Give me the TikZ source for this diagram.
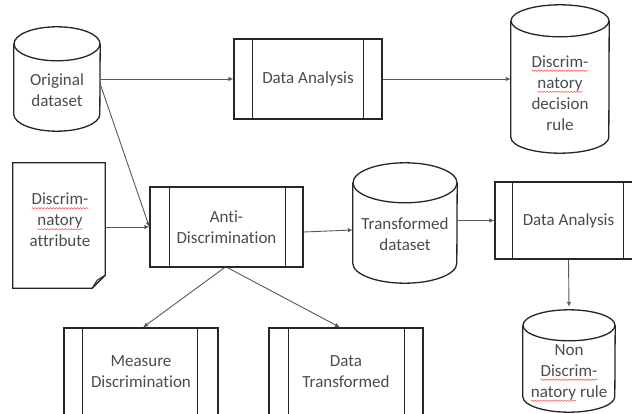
\documentclass[tikz,border=0pt]{standalone}
\usepackage{fontspec}
\setmainfont{Carlito}[Ligatures={NoCommon}]
\usetikzlibrary{arrows.meta,decorations.pathmorphing}
\newcommand\redwave[1]{\tikz[baseline=(w.base)]{\node[inner sep=0pt,outer sep=0pt,text=black!70] (w) {#1};
  \draw[red!70, line width=0.5pt, decorate, decoration={snake, amplitude=0.7pt, segment length=3pt}]
    ([yshift=-3.5pt]w.base west) -- ([yshift=-3.5pt]w.base east);}}
\newcommand\cyl[3]{%
  \draw[shp] ([yshift=-#3pt]#1.north west) -- ([yshift=#3pt]#1.south west)
    arc[start angle=180,end angle=360,x radius=#2pt,y radius=#3pt]
    -- ([yshift=-#3pt]#1.north east);
  \draw[shp] ([yshift=-#3pt]#1.north) ellipse[x radius=#2pt,y radius=#3pt];}
\newcommand\bars[3]{%
  \draw[shp] ([xshift=#2pt]#1.north west) -- ([xshift=#2pt]#1.south west);
  \draw[shp] ([xshift=-#3pt]#1.north east) -- ([xshift=-#3pt]#1.south east);}
\tikzset{
  shp/.style={draw=black!85, line width=1.3pt},
  proc/.style={shp, rectangle, inner sep=0pt, align=center,
    font=\fontsize{17}{21}\selectfont, text=black!70},
  txt/.style={align=center, font=\fontsize{17}{21}\selectfont, text=black!70, inner sep=0pt},
  conn/.style={draw=black!65, line width=0.9pt, -{Latex[length=5pt,width=4.5pt]}},
  ghost/.style={draw=none, rectangle, inner sep=0pt},
}
\begin{document}
\begin{tikzpicture}[x=1pt,y=-1pt]
\useasboundingbox (0,0) rectangle (632,414);
\fill[white] (0,0) rectangle (632,414);
\clip (0,0) rectangle (632,414);

% cylinders
\node[ghost, minimum width=86pt, minimum height=104pt] (orig) at (57,79) {};
\cyl{orig}{43}{17}
\node[txt] (origt) at (57,90) {Original\\dataset};

\node[ghost, minimum width=98pt, minimum height=148pt] (rule1) at (560,79) {};
\cyl{rule1}{49}{16}
\node[txt] (rule1t) at (560,93) {\redwave{Discrim-}\\\redwave{natory}\\decision\\rule};

\node[ghost, minimum width=104pt, minimum height=120pt] (trans) at (405,223) {};
\cyl{trans}{52}{20}
\node[txt] (transt) at (405,234) {Transformed\\dataset};

\node[ghost, minimum width=92pt, minimum height=102pt] (non) at (569,361) {};
\cyl{non}{46}{15.5}
\node[txt] (nont) at (569,373) {Non\\\redwave{Discrim-}\\\redwave{natory} rule};

% document
\node[ghost, minimum width=92pt, minimum height=125pt] (attr) at (59,225.5) {};
\draw[shp] (attr.north west) -- (attr.north east) -- ([yshift=13pt]attr.south east)
  -- ([xshift=-13pt]attr.south east) -- (attr.south west) -- cycle;
\draw[shp, line width=1pt] ([yshift=13pt]attr.south east) -- ([xshift=-8pt,yshift=8pt]attr.south east)
  -- ([xshift=-13pt]attr.south east);
\node[txt] (attrt) at (60,220) {\redwave{Discrim-}\\\redwave{natory}\\attribute};

% processes
\node[proc, minimum width=148pt, minimum height=80pt] (da1) at (308,79) {Data Analysis};
\bars{da1}{19}{19}
\node[proc, minimum width=153pt, minimum height=80pt] (anti) at (226.5,227) {Anti-\\Discrimination};
\bars{anti}{20}{18}
\node[proc, minimum width=147pt, minimum height=77pt] (da2) at (568.5,220.5) {Data Analysis};
\bars{da2}{18}{19}
\node[proc, minimum width=154pt, minimum height=88pt] (measure) at (141,372) {Measure\\Discrimination};
\bars{measure}{19}{21}
\node[proc, minimum width=154pt, minimum height=88pt] (dtrans) at (346,372) {Data\\Transformed};
\bars{dtrans}{20}{19}

% connectors
\draw[conn] (orig.east) -- (da1.west);
\draw[conn] (da1.east) -- (rule1.west);
\draw[conn] ([yshift=-5pt]orig.east) -- (anti.west);
\draw[conn] (attr.east |- anti.west) -- (anti.west);
\draw[conn] ([yshift=-5pt]anti.east) -- ([yshift=-7pt]trans.west);
\draw[conn] (trans.east |- da2.west) -- (da2.west);
\draw[conn] (da2.south) -- ([yshift=3pt]non.north);
\draw[conn] ([xshift=-2pt]anti.south) -- ([xshift=2pt]measure.north);
\draw[conn] ([xshift=1pt]anti.south) -- ([xshift=-6pt]dtrans.north);
\end{tikzpicture}
\end{document}
